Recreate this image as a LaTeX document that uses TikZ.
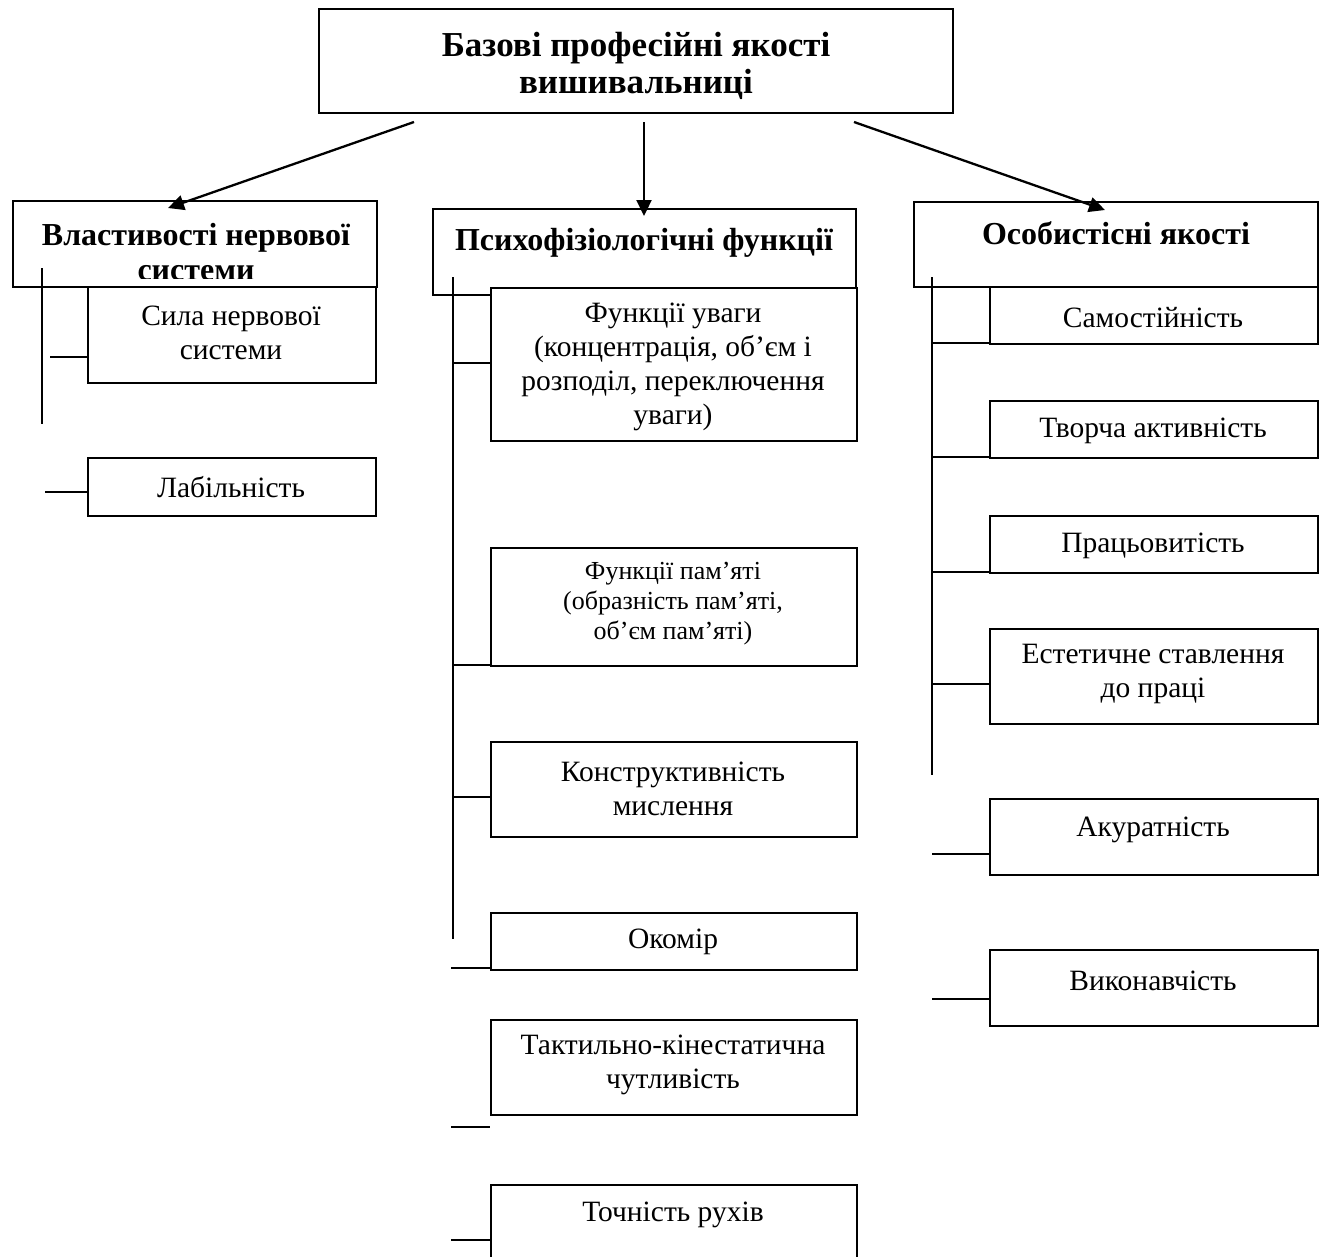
\documentclass[tikz,border=0pt]{standalone}
\usepackage{fontspec}
\setmainfont{Liberation Serif}
\usetikzlibrary{arrows.meta}
\begin{document}
\begin{tikzpicture}[x=1pt,y=-1pt,
  box/.style={draw, line width=1.7pt, fill=white, inner sep=0pt, anchor=north west},
  conn/.style={line width=1.7pt},
  arr/.style={line width=2.3pt, -{Triangle[length=16pt,width=15pt]}},
  txt/.style={align=center, inner sep=0pt, font=\fontsize{29.5}{34}\selectfont},
  ptxt/.style={align=center, inner sep=0pt, font=\fontsize{26}{30}\selectfont},
  btxt/.style={align=center, inner sep=0pt, font=\fontsize{32}{37}\selectfont\bfseries},
  vtxt/.style={align=center, inner sep=0pt, font=\fontsize{32}{35.5}\selectfont\bfseries},
  ttxt/.style={align=center, inner sep=0pt, font=\fontsize{35}{36.5}\selectfont\bfseries}]
\useasboundingbox[fill=white] (0,0) rectangle (1325,1256);
% top box
\node[box, minimum width=634pt, minimum height=104pt] (top) at (318,8) {};
\node[ttxt] (ttop) at (636,66) {Базові професійні якості\\вишивальниці};
% arrows
\coordinate (a1s) at (414,122); \coordinate (a1e) at (168,208);
\coordinate (a2s) at (644,122); \coordinate (a2e) at (644,216);
\coordinate (a3s) at (854,122); \coordinate (a3e) at (1105,210);
% left column
\node[box, minimum width=364pt, minimum height=86pt] (vlast) at (12,200) {};
\begin{scope}
\clip (12,200) rectangle (376,278);
\node[vtxt] (tvlast) at (196,252) {Властивості нервової\\системи};
\end{scope}
\node[box, minimum width=288pt, minimum height=96pt] (sila) at (87,286) {};
\node[txt] (tsila) at (231,333) {Сила нервової\\системи};
\node[box, minimum width=288pt, minimum height=58pt] (lab) at (87,457) {};
\node[txt] (tlab) at (231,487) {Лабільність};
\coordinate (lv1) at (42,268); \coordinate (lv2) at (42,424);
\draw[conn] (lv1) -- (lv2);
\coordinate (lh1) at (50,357); \draw[conn] (lh1) -- (lh1 -| sila.west);
\coordinate (lh2) at (45,492); \draw[conn] (lh2) -- (lh2 -| lab.west);
% middle column
\node[box, minimum width=423pt, minimum height=86pt] (psy) at (432,208) {};
\node[btxt] (tpsy) at (644,243) {Психофізіологічні функції};
\node[box, minimum width=366pt, minimum height=153pt] (uvaga) at (490,287) {};
\node[txt] (tuvaga) at (673,367) {Функції уваги\\(концентрація, об’єм і\\розподіл, переключення\\уваги)};
\node[box, minimum width=366pt, minimum height=118pt] (pam) at (490,547) {};
\node[ptxt] (tpam) at (673,604) {Функції пам’яті\\(образність пам’яті,\\об’єм пам’яті)};
\node[box, minimum width=366pt, minimum height=95pt] (konstr) at (490,741) {};
\node[txt] (tkonstr) at (673,789) {Конструктивність\\мислення};
\node[box, minimum width=366pt, minimum height=57pt] (okomir) at (490,912) {};
\node[txt] (tokomir) at (673,942) {Окомір};
\node[box, minimum width=366pt, minimum height=95pt] (takt) at (490,1019) {};
\node[txt] (ttakt) at (673,1065) {Тактильно-кінестатична\\чутливість};
\node[box, minimum width=366pt, minimum height=80pt] (toch) at (490,1184) {};
\node[txt] (ttoch) at (673,1215) {Точність рухів};
\coordinate (mv1) at (453,277); \coordinate (mv2) at (453,939);
\draw[conn] (mv1) -- (mv2);
\coordinate (mh1) at (453,363); \draw[conn] (mh1) -- (mh1 -| uvaga.west);
\coordinate (mh2) at (453,665); \draw[conn] (mh2) -- (mh2 -| pam.west);
\coordinate (mh3) at (453,797); \draw[conn] (mh3) -- (mh3 -| konstr.west);
\coordinate (mh4) at (451,968); \draw[conn] (mh4) -- (mh4 -| okomir.west);
\coordinate (mh5) at (451,1127); \draw[conn] (mh5) -- (mh5 -| takt.west);
\coordinate (mh6) at (451,1240); \draw[conn] (mh6) -- (mh6 -| toch.west);
% right column
\node[box, minimum width=404pt, minimum height=85pt] (osob) at (913,201) {};
\node[btxt] (tosob) at (1116,233) {Особистісні якості};
\node[box, minimum width=328pt, minimum height=57pt] (samo) at (989,286) {};
\node[txt] (tsamo) at (1153,318) {Самостійність};
\node[box, minimum width=328pt, minimum height=57pt] (tvor) at (989,400) {};
\node[txt] (ttvor) at (1153,431) {Творча активність};
\node[box, minimum width=328pt, minimum height=57pt] (prac) at (989,515) {};
\node[txt] (tprac) at (1153,546) {Працьовитість};
\node[box, minimum width=328pt, minimum height=95pt] (estet) at (989,628) {};
\node[txt] (testet) at (1153,674) {Естетичне ставлення\\до праці};
\node[box, minimum width=328pt, minimum height=76pt] (akur) at (989,798) {};
\node[txt] (takur) at (1153,830) {Акуратність};
\node[box, minimum width=328pt, minimum height=76pt] (vyk) at (989,949) {};
\node[txt] (tvyk) at (1153,981) {Виконавчість};
\coordinate (rv1) at (932,277); \coordinate (rv2) at (932,775);
\draw[conn] (rv1) -- (rv2);
\coordinate (rh1) at (932,343); \draw[conn] (rh1) -- (rh1 -| samo.west);
\coordinate (rh2) at (932,457); \draw[conn] (rh2) -- (rh2 -| tvor.west);
\coordinate (rh3) at (932,572); \draw[conn] (rh3) -- (rh3 -| prac.west);
\coordinate (rh4) at (932,684); \draw[conn] (rh4) -- (rh4 -| estet.west);
\coordinate (rh5) at (932,854); \draw[conn] (rh5) -- (rh5 -| akur.west);
\coordinate (rh6) at (932,999); \draw[conn] (rh6) -- (rh6 -| vyk.west);
% arrows drawn last so their heads lie over the box edges
\draw[arr] (a1s) -- (a1e);
\draw[arr] (a2s) -- (a2e);
\draw[arr] (a3s) -- (a3e);
\end{tikzpicture}
\end{document}
